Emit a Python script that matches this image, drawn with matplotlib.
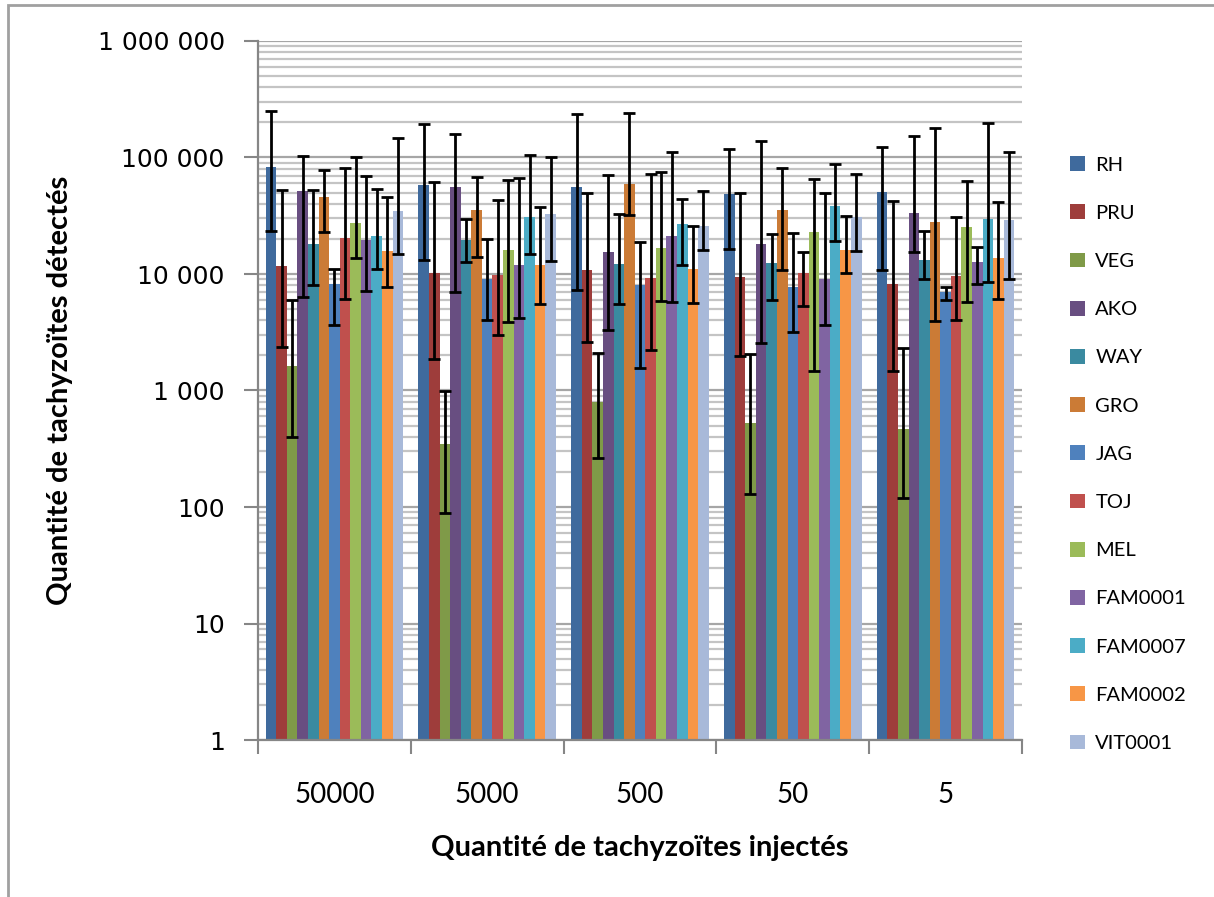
import numpy as np
import matplotlib
matplotlib.use('Agg')
import matplotlib.pyplot as plt
from matplotlib.ticker import FuncFormatter, LogLocator, FixedLocator, NullFormatter
from matplotlib.patches import Rectangle

# doses injectees (categories de l'axe x)
doses = ['50000', '5000', '500', '50', '5']
souches = ['RH', 'PRU', 'VEG', 'AKO', 'WAY', 'GRO', 'JAG', 'TOJ', 'MEL',
           'FAM0001', 'FAM0007', 'FAM0002', 'VIT0001']
couleurs = ['#3F6A9D', '#9E3D3B', '#7F9A48', '#684E81', '#3A8AA0', '#CB7B36',
            '#4F81BD', '#C0504D', '#9BBB59', '#8064A2', '#4BACC6', '#F79646',
            '#A8B9D9']

# moyennes detectees, une ligne par souche, une colonne par dose
moyennes = [
    [83600, 57700, 55500, 48600, 50600],
    [11650, 10100, 10800, 9420, 8260],
    [1610, 345, 796, 522, 470],
    [52000, 55800, 15400, 18200, 33300],
    [18200, 19600, 12100, 12400, 13100],
    [46000, 35100, 58900, 35400, 27700],
    [8260, 9100, 8090, 7730, 6950],
    [20300, 9870, 9250, 10200, 9620],
    [27500, 16200, 16600, 22900, 25200],
    [19500, 12000, 21300, 9000, 12600],
    [21000, 30800, 27000, 38300, 29600],
    [15800, 12000, 11100, 16000, 13700],
    [35000, 32700, 25600, 30800, 28800],
]
# extremites hautes des barres d'erreur
err_haut = [
    [252000, 195000, 235000, 119000, 122000],
    [53000, 62000, 50000, 49900, 42500],
    [5930, 985, 2110, 2060, 2320],
    [104000, 158000, 71000, 139000, 153000],
    [53000, 29800, 33000, 22100, 23200],
    [78000, 68500, 241000, 80900, 179000],
    [11000, 20000, 18700, 22500, 7720],
    [82000, 42800, 71800, 15500, 30800],
    [100000, 63800, 75000, 65500, 63000],
    [69500, 67300, 111000, 49900, 17200],
    [54000, 105000, 44000, 88200, 196000],
    [45500, 37600, 25900, 31600, 41200],
    [147000, 101000, 52000, 71800, 112000],
]
# extremites basses des barres d'erreur
err_bas = [
    [23500, 13200, 7330, 16500, 10800],
    [2380, 1860, 2600, 1990, 1470],
    [396, 88, 262, 130, 120],
    [6380, 6950, 3330, 2560, 15300],
    [7980, 12800, 5540, 5970, 9000],
    [22900, 14000, 32000, 10800, 3930],
    [3660, 4060, 1570, 3160, 6010],
    [6100, 2990, 2210, 5330, 4030],
    [13800, 3870, 5850, 1470, 5740],
    [7100, 4200, 5800, 3660, 8150],
    [11000, 14900, 11900, 19200, 8600],
    [7800, 5500, 5600, 10100, 6120],
    [14800, 12900, 16200, 15700, 9120],
]

fig = plt.figure(figsize=(12.14, 8.97), dpi=100)
ax = fig.add_axes([258 / 1214, 1 - 740 / 897, (1022 - 258) / 1214, (740 - 41) / 897])

x = np.arange(len(doses))
n = len(souches)
larg = 0.9 / n
for i, nom in enumerate(souches):
    m = np.array(moyennes[i], dtype=float)
    yerr = [m - np.array(err_bas[i]), np.array(err_haut[i]) - m]
    pos = x - 0.45 + larg * (i + 0.5)
    ax.bar(pos, m, width=larg, color=couleurs[i], label=nom, zorder=2)
    ax.errorbar(pos, m, yerr=yerr, fmt='none', ecolor='black', elinewidth=2,
                capsize=4, capthick=2, zorder=3)

ax.set_yscale('log')
ax.set_ylim(1, 1e6)
ax.set_xlim(-0.5, len(doses) - 0.5)
ax.yaxis.set_major_locator(LogLocator(base=10, numticks=10))
ax.yaxis.set_minor_locator(LogLocator(base=10, subs=np.arange(2, 10), numticks=100))
ax.yaxis.set_minor_formatter(NullFormatter())
ax.yaxis.set_major_formatter(FuncFormatter(lambda v, p: f'{int(round(v)):,}'.replace(',', ' ')))
ax.grid(True, which='major', axis='y', color='#A6A6A6', lw=1.6, zorder=0)
ax.grid(True, which='minor', axis='y', color='#C4C4C4', lw=1.6, zorder=0)

ax.xaxis.set_major_locator(FixedLocator(np.arange(-0.5, len(doses), 1)))
ax.xaxis.set_minor_locator(FixedLocator(x))
ax.set_xticklabels([''] * (len(doses) + 1))
ax.set_xticklabels(doses, minor=True, family='Lato', fontsize=20)
ax.tick_params(axis='x', which='major', length=10, width=1.5, color='#868686')
ax.tick_params(axis='x', which='minor', length=0, pad=30)
ax.tick_params(axis='y', which='major', length=10, width=1.5, color='#868686',
               labelsize=18, pad=14)
ax.tick_params(axis='y', which='minor', length=0)

for c in ['top', 'right']:
    ax.spines[c].set_visible(False)
for c in ['left', 'bottom']:
    ax.spines[c].set_color('#868686')
    ax.spines[c].set_linewidth(1.6)

ax.set_xlabel('Quantité de tachyzoïtes injectés', family='Lato', fontweight='bold',
              fontsize=21, labelpad=20)
ax.set_ylabel('Quantité de tachyzoïtes détectés', family='Lato', fontweight='bold',
              fontsize=21, labelpad=18)

fig.legend(loc='upper left', bbox_to_anchor=(1052 / 1214, 1 - 138 / 897),
           frameon=False, prop={'family': 'Lato', 'size': 14.5},
           handlelength=0.75, handleheight=0.75, handletextpad=0.5,
           labelspacing=1.53)

fig.patches.append(Rectangle((8 / 1214, -0.05), 1.1, 1.05 - 5 / 897,
                             transform=fig.transFigure, fill=False,
                             edgecolor='#A0A0A0', lw=2))

fig.savefig('out.png', dpi=100)
